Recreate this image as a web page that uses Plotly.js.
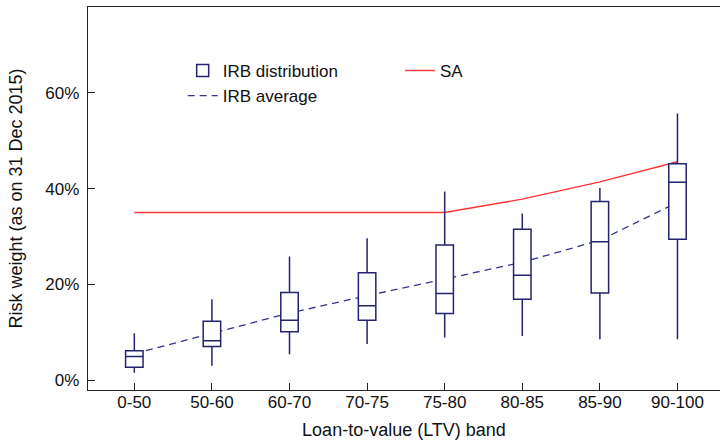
<!DOCTYPE html>
<html>
<head>
<meta charset="utf-8">
<script src="https://cdn.plot.ly/plotly-3.0.1.min.js"></script>
<style>html,body{margin:0;padding:0;background:#fff;}#chart{width:720px;height:441px;}</style>
</head>
<body>
<div id="chart"></div>
<script>
// LTV bands (categories)
const bands = ["0-50", "50-60", "60-70", "70-75", "75-80", "80-85", "85-90", "90-100"];
// IRB distribution (risk weight, %)
const irbLowerWhisker = [1.5, 3.0, 5.4, 7.5, 8.9, 9.2, 8.5, 8.5];
const irbQ1           = [2.65, 7.0, 10.1, 12.5, 13.9, 16.9, 18.2, 29.4];
const irbMedian       = [4.9, 8.2, 12.5, 15.5, 18.1, 21.9, 28.9, 41.3];
const irbQ3           = [6.1, 12.3, 18.3, 22.4, 28.2, 31.5, 37.3, 45.2];
const irbUpperWhisker = [9.75, 16.9, 25.8, 29.6, 39.4, 34.8, 40.1, 55.7];
// IRB average (%)
const irbAverage = [5.5, 9.8, 14.0, 17.6, 21.1, 24.6, 29.2, 37.1];
// Standardised approach (%)
const saWeight = [35, 35, 35, 35, 35, 37.8, 41.4, 45.6];
// y-axis ticks
const yTickVals = [0, 20, 40, 60];
const yTickText = ["0%", "20%", "40%", "60%"];

const navy = "#23236f";
const font = "Liberation Sans, Arial, sans-serif";
const xRange = [-0.597, 7.548];
const yRange = [-2.09, 77.95];

const data = [
  {
    type: "box", name: "IRB distribution", x: bands,
    q1: irbQ1, median: irbMedian, q3: irbQ3,
    lowerfence: irbLowerWhisker, upperfence: irbUpperWhisker,
    xaxis: "x", yaxis: "y2",
    fillcolor: "#ffffff", line: {color: navy, width: 1.5},
    width: 0.225, whiskerwidth: 0, boxpoints: false,
    legend: "legend"
  },
  {
    type: "scatter", mode: "lines", name: "IRB average", x: bands, y: irbAverage,
    line: {color: "#34348c", width: 1.3, dash: "7px,5px"},
    legend: "legend2"
  },
  {
    type: "scatter", mode: "lines", name: "SA", x: bands, y: saWeight,
    line: {color: "#ff3434", width: 1.4},
    legend: "legend3"
  }
];

const legendBase = {
  bgcolor: "rgba(0,0,0,0)", borderwidth: 0,
  font: {family: font, size: 17, color: "#111"},
  xanchor: "left", yanchor: "top"
};

const layout = {
  width: 720, height: 441,
  margin: {l: 88, r: 0, t: 7, b: 51, pad: 0},
  paper_bgcolor: "#fff", plot_bgcolor: "#fff",
  font: {family: font, size: 17, color: "#111"},
  showlegend: true,
  xaxis: {
    type: "category", categoryarray: bands, range: xRange,
    ticks: "inside", ticklen: 7, tickcolor: "#222", tickwidth: 1,
    showline: true, linecolor: "#222", linewidth: 1.3, mirror: true,
    showgrid: false, zeroline: false, ticklabelstandoff: -4,
    tickfont: {family: font, size: 17, color: "#111"},
    title: {text: "Loan-to-value (LTV) band", font: {family: font, size: 18, color: "#111"}, standoff: 12}
  },
  yaxis: {
    range: yRange, tickvals: yTickVals, ticktext: yTickText,
    ticks: "inside", ticklen: 7, tickcolor: "#222", tickwidth: 1,
    showline: true, linecolor: "#222", linewidth: 1.3, mirror: true,
    showgrid: false, zeroline: false, ticklabelstandoff: 4,
    tickfont: {family: font, size: 17, color: "#111"},
    title: {text: "Risk weight (as on 31 Dec 2015)", font: {family: font, size: 18, color: "#111"}, standoff: 18}
  },
  yaxis2: {range: yRange, overlaying: "y", visible: false},
  legend: Object.assign({}, legendBase, {x: 0.1498, y: 0.880}),
  legend2: Object.assign({}, legendBase, {x: 0.1498, y: 0.8146}),
  legend3: Object.assign({}, legendBase, {x: 0.4937, y: 0.880})
};

Plotly.newPlot("chart", data, layout, {displayModeBar: false, staticPlot: true});
</script>
</body>
</html>
